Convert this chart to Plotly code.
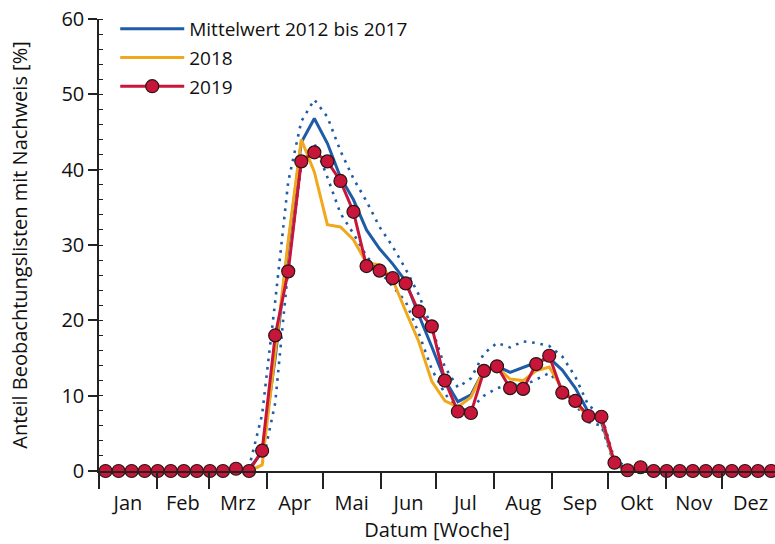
import plotly.graph_objects as go

# Calendar weeks 1..52
weeks = list(range(1, 53))

# Mean share 2012-2017 (%)
mean_2012_2017 = [0]*11 + [0.3, 2.5, 15.0, 30.0, 43.6, 46.8, 43.5, 39.0, 36.0, 32.0,
                           29.5, 27.5, 25.2, 20.7, 16.5, 12.1, 9.2, 10.1, 13.4, 13.9,
                           13.1, 13.8, 14.4, 15.0, 13.4, 11.0, 7.8, 6.5, 1.1, 0.3] + [0]*11
# Upper / lower band around the mean (%)
upper_band = [0]*11 + [0.5, 7.5, 22.5, 38.4, 46.4, 49.3, 47.0, 42.5, 38.8, 35.8,
                       32.4, 29.8, 26.8, 23.4, 19.0, 13.8, 11.1, 12.3, 15.6, 17.0,
                       16.4, 17.2, 17.0, 16.6, 15.2, 12.5, 8.7, 7.5, 1.5, 0.5] + [0]*11
lower_band = [0]*11 + [0.0, 0.8, 9.0, 27.0, 40.5, 43.5, 39.0, 34.2, 31.5, 28.5,
                       26.5, 24.5, 22.5, 18.3, 13.5, 10.3, 8.0, 8.3, 10.0, 11.0,
                       11.5, 11.3, 12.1, 13.0, 11.2, 8.8, 6.5, 6.0, 0.8, 0.1] + [0]*11
# Year 2018 (%)
year_2018 = [0]*11 + [0.0, 0.8, 15.5, 30.5, 44.0, 39.7, 32.7, 32.4, 30.7, 27.6,
                      27.4, 25.4, 21.2, 17.2, 11.9, 9.3, 8.5, 9.8, 13.4, 13.8,
                      12.2, 12.0, 13.3, 13.8, 10.9, 9.1, 7.2, 7.0, 1.0, 0.0] + [0]*11
# Year 2019 (%)
year_2019 = [0]*10 + [0.3, 0.0, 2.7, 18.0, 26.5, 41.1, 42.3, 41.1, 38.5, 34.4, 27.2,
                      26.6, 25.6, 24.9, 21.2, 19.2, 12.0, 7.9, 7.7, 13.3, 13.9,
                      11.0, 10.9, 14.2, 15.3, 10.4, 9.3, 7.3, 7.2, 1.1, 0.1,
                      0.5] + [0]*10

months = ["Jan", "Feb", "Mrz", "Apr", "Mai", "Jun", "Jul", "Aug", "Sep", "Okt", "Nov", "Dez"]
month_days = [31, 28, 31, 30, 31, 30, 31, 31, 30, 31, 30, 31]

# Day-of-year positions: weeks at their mid-day, months at boundaries / centres
week_day = [7*w - 3.5 for w in weeks]
bounds = [0]
for d in month_days:
    bounds.append(bounds[-1] + d)
mids = [(bounds[i] + bounds[i+1]) / 2 for i in range(12)]

BLUE = "#1f5ca8"
ORANGE = "#f2a81d"
RED = "#c8163a"
FONT = "Open Sans"
FS = 20

fig = go.Figure()

for band in (upper_band, lower_band):
    fig.add_trace(go.Scatter(
        x=week_day, y=band, mode="lines", showlegend=False, hoverinfo="skip",
        line=dict(color=BLUE, width=2.6, dash="2.6px,5.8px"), cliponaxis=False))

fig.add_trace(go.Scatter(
    x=week_day, y=mean_2012_2017, mode="lines", name="Mittelwert 2012 bis 2017",
    legendgroup="a", line=dict(color=BLUE, width=3), cliponaxis=False))
fig.add_trace(go.Scatter(
    x=week_day, y=year_2018, mode="lines", name="2018",
    legendgroup="b", line=dict(color=ORANGE, width=3), cliponaxis=False))
fig.add_trace(go.Scatter(
    x=week_day, y=year_2019, mode="lines+markers", name="2019",
    legendgroup="c", line=dict(color=RED, width=3),
    marker=dict(size=13, color=RED, line=dict(color="#2a1414", width=1.2)),
    cliponaxis=False))

# y-axis line continues below zero alongside the outward month ticks
fig.add_shape(type="line", xref="paper", yref="paper", x0=0, x1=0, y0=0, y1=-16/452,
              line=dict(color="#222", width=1.5))

fig.update_layout(
    width=775, height=544,
    margin=dict(l=99, r=0, t=19, b=73),
    paper_bgcolor="white", plot_bgcolor="white",
    font=dict(family=FONT, size=FS, color="#111"),
    showlegend=True,
    legend=dict(x=0.024, y=1.02, xanchor="left", yanchor="top",
                bgcolor="rgba(0,0,0,0)", font=dict(size=19, color="#111"),
                traceorder="grouped", tracegroupgap=1, itemwidth=64),
    xaxis=dict(
        range=[0, 362.6], showgrid=False, zeroline=False,
        showline=True, linecolor="#222", linewidth=1.5,
        tickmode="array", tickvals=mids, ticktext=months,
        ticks="outside", ticklen=13, tickcolor="rgba(0,0,0,0)",
        tickfont=dict(size=FS, color="#111"),
        minor=dict(tickmode="array", tickvals=bounds, ticks="outside",
                   ticklen=16, tickwidth=1.5, tickcolor="#222", showgrid=False),
        title=dict(text="Datum [Woche]", font=dict(size=FS, color="#111"), standoff=4),
    ),
    yaxis=dict(
        range=[0, 60], showgrid=False, zeroline=False,
        showline=True, linecolor="#222", linewidth=1.5,
        tickmode="array", tickvals=[0, 10, 20, 30, 40, 50, 60],
        ticks="outside", ticklen=9, tickwidth=1.5, tickcolor="#222",
        tickfont=dict(size=FS, color="#111"),
        minor=dict(tickmode="linear", tick0=0, dtick=2, ticks="inside",
                   ticklen=4, tickwidth=1.2, tickcolor="#222", showgrid=False),
        title=dict(text="Anteil Beobachtungslisten mit Nachweis [%]",
                   font=dict(size=FS, color="#111"), standoff=28),
    ),
)

fig.write_html("out.html")
